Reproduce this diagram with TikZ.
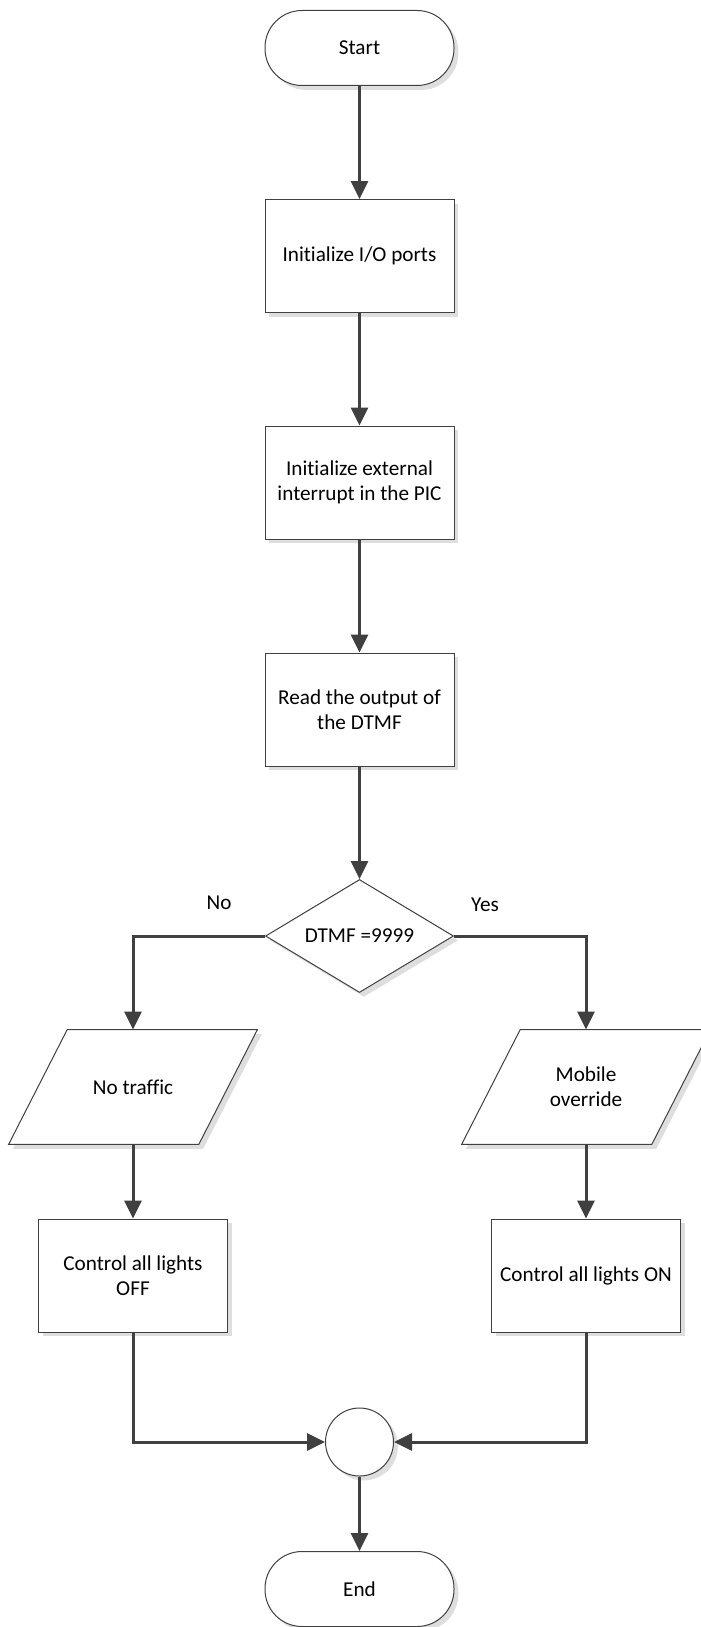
\documentclass[tikz,border=0pt]{standalone}
\usepackage{fontspec}
\setmainfont{Carlito}[Ligatures=NoCommon]
\usetikzlibrary{shapes.geometric,arrows.meta,calc,shadows,backgrounds}

\begin{document}
\begin{tikzpicture}[x=0.5pt,y=-0.5pt,
  font=\fontsize{10.6}{12.4}\selectfont,
  outline/.style={draw=black!75, line width=0.5pt, fill=white,
    drop shadow={shadow xshift=2.2pt, shadow yshift=-2.2pt, fill=black!13, opacity=1}},
  process/.style={outline, rectangle, minimum width=94.5pt, minimum height=56.5pt,
    inner sep=0pt, align=center},
  terminal/.style={outline, rectangle, rounded corners=18.5pt, minimum width=94.5pt,
    minimum height=37.5pt, inner sep=0pt},
  decision/.style={outline, diamond, aspect=1.67, minimum width=94pt, minimum height=56.5pt,
    inner sep=0pt},
  iobox/.style={rectangle, minimum width=124pt, minimum height=57pt, inner sep=0pt, align=center},
  junction/.style={outline, circle, minimum size=34pt, inner sep=0pt},
  conn/.style={draw=black!75, line width=1.5pt, -{Triangle[length=9pt,width=8.5pt]}},
  label/.style={inner sep=0pt}
]
\useasboundingbox (0,0) rectangle (701,1627);
\clip (0,0) rectangle (701,1627);
\begin{scope}[on background layer]
  \fill[white] (0,0) rectangle (701,1627);
\end{scope}

% main column
\node[terminal] (start) at (359.5,48) {Start};
\node[process] (init) at (359.5,256) {Initialize I/O ports};
\node[process] (ext) at (359.5,482.5) {Initialize external\\interrupt in the PIC};
\node[process] (read) at (359.5,709.5) {Read the output of\\the DTMF};
\node[decision] (dec) at (359.5,936) {DTMF =9999};

% branch outputs (parallelograms drawn behind their text)
\node[iobox] (nt) at (133,1087) {No traffic};
\node[iobox] (mo) at (586,1087) {Mobile\\override};
\begin{scope}[on background layer]
  \draw[outline] ($(nt.north west)+(58.6,0)$) -- (nt.north east)
    -- ($(nt.south east)+(-58.6,0)$) -- (nt.south west) -- cycle;
  \draw[outline] ($(mo.north west)+(58.6,0)$) -- (mo.north east)
    -- ($(mo.south east)+(-58.6,0)$) -- (mo.south west) -- cycle;
\end{scope}

\node[process] (off) at (133,1275.5) {Control all lights\\OFF};
\node[process] (on) at (586,1275.5) {Control all lights ON};
\node[junction] (join) at (359.5,1442) {};
\node[terminal] (end) at (359.5,1589) {End};

% branch labels
\node[label] (lno) at (219,903) {No};
\node[label] (lyes) at (485,905) {Yes};

% connectors
\draw[conn] (start) -- (init);
\draw[conn] (init) -- (ext);
\draw[conn] (ext) -- (read);
\draw[conn] (read) -- (dec);
\draw[conn] (dec.west) -| (nt.north);
\draw[conn] (dec.east) -| (mo.north);
\draw[conn] (nt.south) -- (off.north);
\draw[conn] (mo.south) -- (on.north);
\draw[conn] (off.south) |- (join.west);
\draw[conn] (on.south) |- (join.east);
\draw[conn] (join) -- (end);
\end{tikzpicture}
\end{document}
